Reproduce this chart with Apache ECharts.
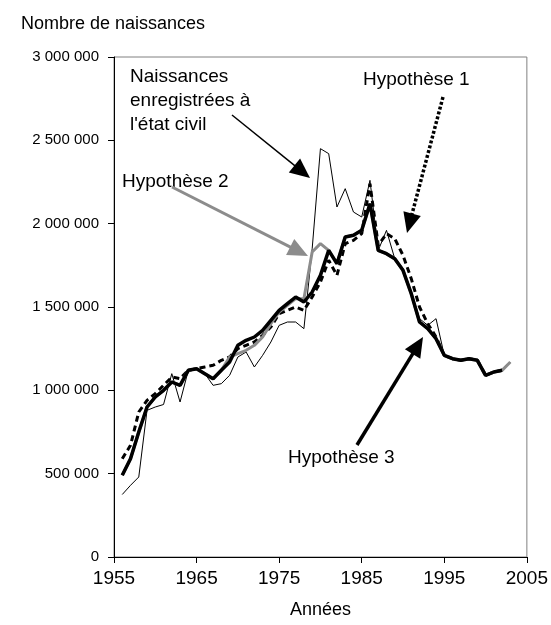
<!DOCTYPE html>
<html>
<head>
<meta charset="utf-8">
<script src="https://cdn.jsdelivr.net/npm/echarts@6/dist/echarts.min.js"></script>
<style>
  html, body { margin: 0; padding: 0; background: #fff; }
  #chart { width: 551px; height: 625px; }
</style>
</head>
<body>
<div id="chart"></div>
<script>
// années 1956 -> 2003
const years = [1956, 1957, 1958, 1959, 1960, 1961, 1962, 1963, 1964, 1965,
  1966, 1967, 1968, 1969, 1970, 1971, 1972, 1973, 1974, 1975,
  1976, 1977, 1978, 1979, 1980, 1981, 1982, 1983, 1984, 1985,
  1986, 1987, 1988, 1989, 1990, 1991, 1992, 1993, 1994, 1995,
  1996, 1997, 1998, 1999, 2000, 2001, 2002, 2003]

// naissances enregistrées à l'état civil
const etatCivil = [375000, 430000, 480000, 880000, 900000, 915000, 1100000, 930000, 1120000, 1130000,
  1100000, 1030000, 1040000, 1090000, 1200000, 1230000, 1140000, 1210000, 1290000, 1390000,
  1410000, 1410000, 1370000, 1850000, 2450000, 2420000, 2100000, 2210000, 2070000, 2040000,
  2260000, 1840000, 1960000, 1790000, 1730000, 1590000, 1430000, 1390000, 1430000, 1210000,
  1190000, 1180000, 1190000, 1180000, 1090000, 1110000, 1120000, 1170000]

// hypothèse 1 (pointillés), jusqu'en 2002
const hyp1 = [590000, 670000, 870000, 940000, 980000, 1030000, 1080000, 1070000, 1120000, 1130000,
  1140000, 1150000, 1180000, 1200000, 1250000, 1270000, 1290000, 1330000, 1380000, 1460000,
  1480000, 1500000, 1480000, 1560000, 1650000, 1780000, 1690000, 1880000, 1900000, 1940000,
  2240000, 1870000, 1940000, 1910000, 1810000, 1670000, 1500000, 1400000, 1320000, 1210000,
  1190000, 1180000, 1190000, 1180000, 1090000, 1110000, 1120000]

// hypothèse 2 (gris), jusqu'en 2003
const hyp2 = [490000, 590000, 750000, 900000, 960000, 1000000, 1050000, 1030000, 1120000, 1130000,
  1100000, 1070000, 1120000, 1200000, 1220000, 1240000, 1270000, 1320000, 1400000, 1470000,
  1510000, 1550000, 1550000, 1830000, 1880000, 1840000, 1760000, 1920000, 1930000, 1960000,
  2120000, 1840000, 1820000, 1790000, 1720000, 1580000, 1410000, 1370000, 1310000, 1210000,
  1190000, 1180000, 1190000, 1180000, 1090000, 1110000, 1120000, 1170000]

// hypothèse 3 (trait épais), jusqu'en 2002
const hyp3 = [490000, 590000, 750000, 900000, 960000, 1000000, 1050000, 1030000, 1120000, 1130000,
  1100000, 1070000, 1120000, 1170000, 1270000, 1300000, 1320000, 1360000, 1420000, 1480000,
  1520000, 1560000, 1530000, 1590000, 1690000, 1840000, 1760000, 1920000, 1930000, 1960000,
  2120000, 1840000, 1820000, 1790000, 1720000, 1580000, 1410000, 1370000, 1310000, 1210000,
  1190000, 1180000, 1190000, 1180000, 1090000, 1110000, 1120000]

const FONT = '"Liberation Sans", Arial, sans-serif'

function pairs(vals) {
  return vals.map((v, i) => [years[i], v])
}

function fmtSpace(v) {
  return String(v).replace(/\B(?=(\d{3})+(?!\d))/g, ' ')
}

// flèche d'annotation : trait + pointe triangulaire
function arrow(x1, y1, x2, y2, color, width, dash) {
  const dx = x2 - x1, dy = y2 - y1
  const len = Math.sqrt(dx * dx + dy * dy)
  const ux = dx / len, uy = dy / len
  const hl = 20, hw = 9
  const bx = x2 - ux * hl, by = y2 - uy * hl
  return [{
    type: 'polyline',
    shape: { points: [[x1, y1], [bx + ux * 2, by + uy * 2]] },
    style: { stroke: color, lineWidth: width, lineDash: dash || null, fill: null }
  }, {
    type: 'polygon',
    shape: { points: [[x2, y2], [bx - uy * hw, by + ux * hw], [bx + uy * hw, by - ux * hw]] },
    style: { fill: color, stroke: null }
  }]
}

function label(text, x, y) {
  return {
    type: 'text',
    x: x, y: y,
    style: { text: text, font: '19px ' + FONT, fill: '#000', textVerticalAlign: 'middle' }
  }
}

const chart = echarts.init(document.getElementById('chart'), null, { renderer: 'canvas' })

const option = {
  animation: false,
  title: {
    text: 'Nombre de naissances',
    left: 16, top: 10,
    textStyle: { fontFamily: FONT, fontSize: 18, fontWeight: 'normal', color: '#000' }
  },
  grid: {
    left: 114, right: 23, top: 57, bottom: 68,
    show: true, borderColor: '#808080', borderWidth: 1
  },
  xAxis: {
    type: 'value',
    min: 1955, max: 2005, interval: 10,
    name: 'Années', nameLocation: 'middle', nameGap: 44,
    nameTextStyle: { fontFamily: FONT, fontSize: 18, color: '#000' },
    axisLine: { lineStyle: { color: '#000', width: 1 } },
    axisTick: { length: 6, lineStyle: { color: '#000' } },
    axisLabel: { fontFamily: FONT, fontSize: 19, color: '#000', margin: 12, formatter: v => String(v) },
    splitLine: { show: false }
  },
  yAxis: {
    type: 'value',
    min: 0, max: 3000000, interval: 500000,
    axisLine: { show: true, lineStyle: { color: '#000', width: 1 } },
    axisTick: { show: true, length: 6, lineStyle: { color: '#000' } },
    axisLabel: { fontFamily: FONT, fontSize: 15, color: '#000', margin: 15, formatter: fmtSpace },
    splitLine: { show: false }
  },
  series: [{
    name: "Naissances enregistrées à l'état civil",
    type: 'line', showSymbol: false, z: 2,
    lineStyle: { color: '#000', width: 1 },
    data: pairs(etatCivil)
  }, {
    name: 'Hypothèse 1',
    type: 'line', showSymbol: false, z: 3,
    lineStyle: { color: '#000', width: 3, type: [6, 4] },
    data: pairs(hyp1)
  }, {
    name: 'Hypothèse 2',
    type: 'line', showSymbol: false, z: 4,
    lineStyle: { color: '#8c8c8c', width: 3 },
    data: pairs(hyp2)
  }, {
    name: 'Hypothèse 3',
    type: 'line', showSymbol: false, z: 5,
    lineStyle: { color: '#000', width: 3.5 },
    data: pairs(hyp3)
  }],
  graphic: [
    label('Naissances', 130, 77),
    label('enregistrées à', 130, 101),
    label("l'état civil", 130, 125),
    label('Hypothèse 2', 122, 182),
    label('Hypothèse 1', 363, 80),
    label('Hypothèse 3', 288, 458),
    ...arrow(232, 115, 310, 178, '#000', 1.5),
    ...arrow(172, 187, 308, 256, '#8c8c8c', 3),
    ...arrow(443, 97, 407, 233, '#000', 3.5, [3, 2]),
    ...arrow(357, 445, 423, 337, '#000', 3.5)
  ]
}

chart.setOption(option)
</script>
</body>
</html>
